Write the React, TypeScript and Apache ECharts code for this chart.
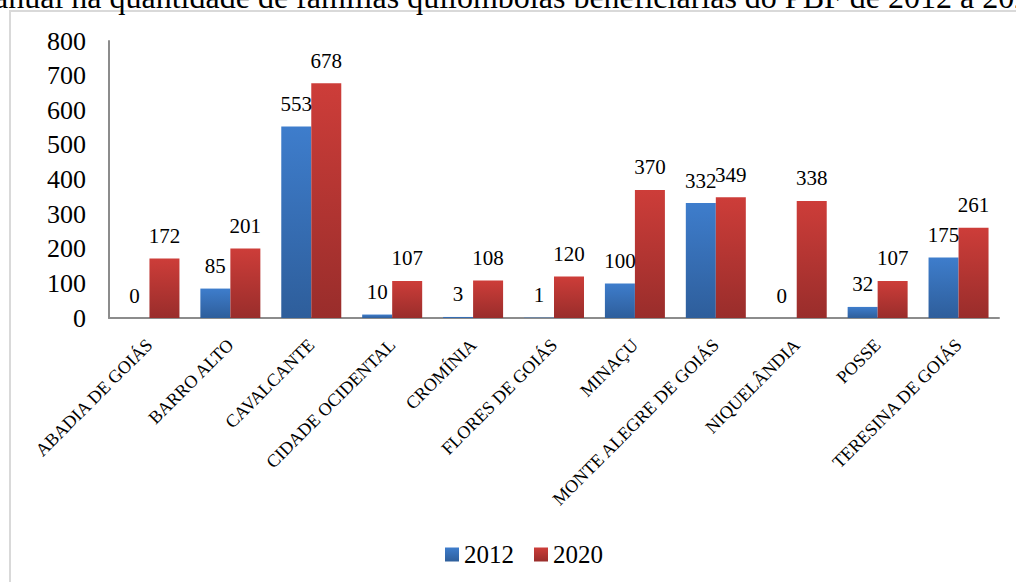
import React, { useEffect, useRef } from "react";
import * as echarts from "echarts";

const categories = [
  "ABADIA DE GOIÁS",
  "BARRO ALTO",
  "CAVALCANTE",
  "CIDADE OCIDENTAL",
  "CROMÍNIA",
  "FLORES DE GOIÁS",
  "MINAÇU",
  "MONTE ALEGRE DE GOIÁS",
  "NIQUELÂNDIA",
  "POSSE",
  "TERESINA DE GOIÁS",
];
const values2012 = [0, 85, 553, 10, 3, 1, 100, 332, 0, 32, 175];
const values2020 = [172, 201, 678, 107, 108, 120, 370, 349, 338, 107, 261];
const seriesNames = ["2012", "2020"];
const titleText =
  "anual na quantidade de famílias quilombolas beneficiárias do PBF de 2012 a 2020";

const FONT = "Liberation Serif, serif";

export default function App() {
  const ref = useRef<HTMLDivElement>(null);
  useEffect(() => {
    if (!ref.current) return;
    const chart = echarts.init(ref.current, undefined, { renderer: "svg" });
    const blue = new echarts.graphic.LinearGradient(0, 0, 0, 1, [
      { offset: 0, color: "#3E7DCC" },
      { offset: 1, color: "#2E5E9B" },
    ]);
    const red = new echarts.graphic.LinearGradient(0, 0, 0, 1, [
      { offset: 0, color: "#CD3D39" },
      { offset: 1, color: "#992D2B" },
    ]);
    const label = {
      show: true,
      position: "top" as const,
      distance: 12,
      color: "#000",
      fontFamily: FONT,
      fontSize: 21,
    };
    chart.setOption({
      animation: false,
      backgroundColor: "#fff",
      textStyle: { fontFamily: FONT },
      graphic: [
        {
          type: "rect",
          z: -10,
          shape: { x: 10, y: 11, width: 1200, height: 800 },
          style: { fill: "none", stroke: "#d9d9d9", lineWidth: 2 },
        },
        {
          type: "text",
          x: -6,
          y: -3,
          style: {
            text: titleText,
            font: `32px ${FONT}`,
            fill: "#000",
            textAlign: "left",
            textVerticalAlign: "middle",
          },
        },
      ],
      legend: {
        left: 440,
        top: 537,
        icon: "rect",
        itemWidth: 14,
        itemHeight: 14,
        itemGap: 20,
        textStyle: { fontFamily: FONT, fontSize: 25, color: "#000" },
        data: seriesNames,
      },
      grid: {
        left: 109,
        right: 17,
        top: 41,
        bottom: 264,
        containLabel: false,
        outerBoundsMode: "none",
      },
      xAxis: {
        type: "category",
        data: categories,
        axisLine: { lineStyle: { color: "#8c8c8c", width: 2 } },
        axisTick: { show: false },
        axisLabel: {
          interval: 0,
          rotate: 45,
          margin: 24,
          color: "#000",
          fontFamily: FONT,
          fontSize: 18,
        },
      },
      yAxis: {
        type: "value",
        min: 0,
        max: 800,
        interval: 100,
        axisLine: { show: true, lineStyle: { color: "#8c8c8c", width: 2 } },
        axisTick: { show: false },
        splitLine: { show: false },
        axisLabel: {
          margin: 23,
          color: "#000",
          fontFamily: FONT,
          fontSize: 26,
        },
      },
      series: [
        {
          name: seriesNames[0],
          type: "bar",
          data: values2012,
          barWidth: 30,
          barGap: "0%",
          itemStyle: { color: blue },
          label,
        },
        {
          name: seriesNames[1],
          type: "bar",
          data: values2020,
          barWidth: 30,
          barGap: "0%",
          itemStyle: { color: red },
          label,
        },
      ],
    });
    return () => chart.dispose();
  }, []);
  return (
    <div
      ref={ref}
      style={{ position: "fixed", left: 0, top: 0, width: 1016, height: 582 }}
    />
  );
}
